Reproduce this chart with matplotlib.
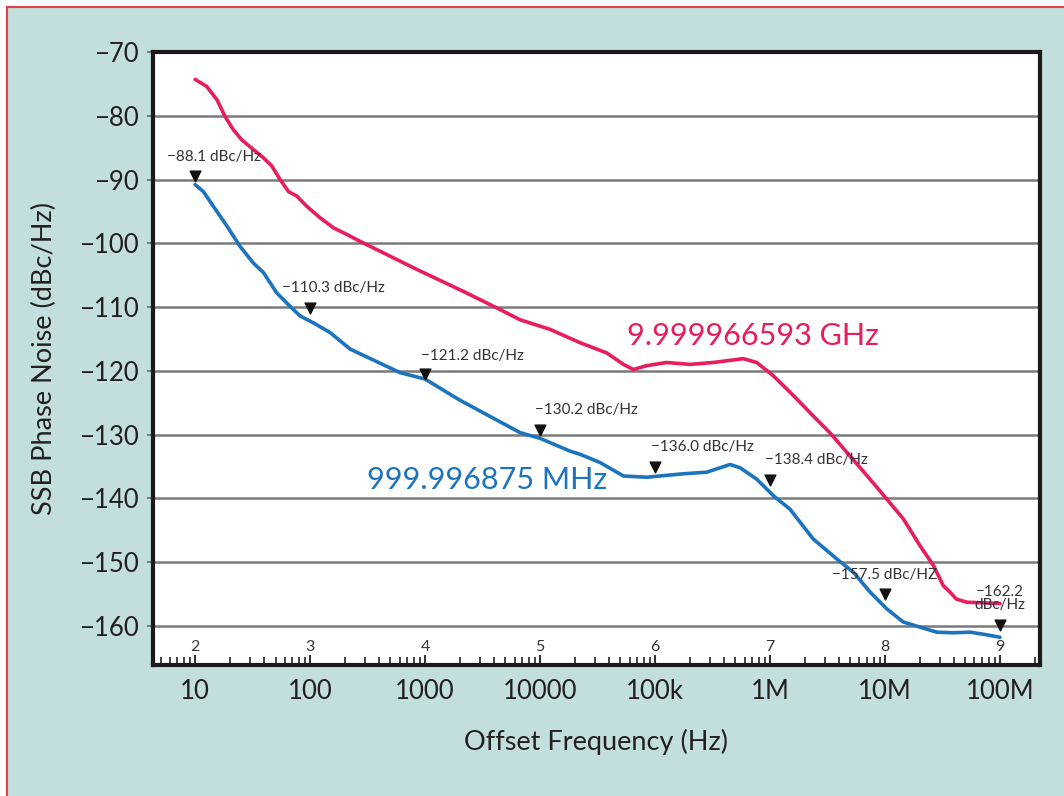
import matplotlib
matplotlib.use("Agg")
import matplotlib.pyplot as plt
from matplotlib.patches import Rectangle
from matplotlib.ticker import FixedLocator, NullFormatter, LogLocator
import numpy as np

plt.rcParams['font.family'] = ['Lato', 'DejaVu Sans']

# ---- data ----
red_f = [10, 12.6, 15.5, 18.2, 21.5, 25.5, 31.1, 39.3, 46.5, 54.8, 64.9, 76.6, 93.5,
         122, 160, 208, 272, 847, 2300, 4490, 6700, 12200, 22300, 38000, 53100,
         64700, 84700, 126000, 201000, 321000, 586000, 766000, 1070000, 1600000,
         2380000, 3310000, 7410000, 14400000, 20100000, 26300000, 32100000,
         36700000, 41700000, 51300000, 100000000]
red_v = [-74.3, -75.4, -77.5, -80.1, -82.2, -83.8, -85.1, -86.6, -87.9, -90.0, -91.9, -92.6, -94.2,
         -96.0, -97.6, -98.6, -99.7, -104.1, -107.8, -110.4, -112.0, -113.5, -115.6, -117.2, -119.0,
         -119.8, -119.2, -118.7, -119.0, -118.7, -118.1, -118.7, -120.8, -123.9,
         -127.1, -129.7, -137.0, -143.2, -147.4, -150.5, -153.7,
         -154.7, -155.8, -156.3, -156.5]

blue_f = [10, 11.8, 14.4, 18.9, 24.6, 32.1, 39.3, 51.3, 67.0, 81.8, 107, 149, 223, 607,
          1000, 2000, 6700, 10000, 18200, 22300, 33300, 53100, 84700, 165000, 282000,
          449000, 548000, 766000, 1070000, 1490000, 2380000, 3800000, 5310000,
          7410000, 10300000, 14400000, 20100000, 28200000, 39300000, 55000000,
          75900000, 100000000]
blue_v = [-90.8, -91.9, -94.2, -97.3, -100.5, -103.1, -104.6, -107.8, -109.9, -111.4, -112.5, -114.0, -116.6, -120.3,
          -121.3, -124.6, -129.7, -130.6, -132.6, -133.1, -134.4, -136.5, -136.7, -136.2, -135.9,
          -134.7, -135.2, -137.0, -139.6, -141.7, -146.4, -149.5, -151.6,
          -154.7, -157.3, -159.4, -160.2, -161.0, -161.1, -161.0,
          -161.4, -161.8]

marker_f = [10, 100, 1000, 10000, 100000, 1000000, 10000000, 100000000]
marker_y = [-89.5, -110.2, -120.5, -129.3, -135.1, -137.2, -155.0, -159.8]
marker_labels = ["\u221288.1 dBc/Hz", "\u2212110.3 dBc/Hz", "\u2212121.2 dBc/Hz",
                 "\u2212130.2 dBc/Hz", "\u2212136.0 dBc/Hz", "\u2212138.4 dBc/Hz",
                 "\u2212157.5 dBc/HZ", "\u2212162.2\ndBc/Hz"]
label_dx = [19, 23, 47, 46, 47, 46, 0, 0]   # pixel offsets of label centres
label_dy = [8, 9, 7, 9, 9, 9, 8, 8]

xtick_vals = [10, 100, 1000, 10000, 100000, 1000000, 10000000, 100000000]
xtick_labels = ["10", "100", "1000", "10000", "100k", "1M", "10M", "100M"]
decade_marks = ["2", "3", "4", "5", "6", "7", "8", "9"]
ytick_vals = [-70, -80, -90, -100, -110, -120, -130, -140, -150, -160]

red_name = "9.999966593 GHz"
blue_name = "999.996875 MHz"

RED = "#e81d5c"
BLUE = "#1b74bd"
TEAL = "#c3dfdd"

W, H = 1064, 796
fig = plt.figure(figsize=(W / 100, H / 100), dpi=100)
fig.patch.set_facecolor("white")
fig.patches.append(Rectangle((7 / W, -0.05), 1.2, 1 - 7 / H + 0.05,
                             transform=fig.transFigure, facecolor=TEAL,
                             edgecolor="#e0404c", linewidth=1.5, zorder=-10))

L, R, T, B = 153, 1040, 52, 665
ax = fig.add_axes([L / W, 1 - B / H, (R - L) / W, (B - T) / H])
ax.set_facecolor("white")
ax.set_xscale("log")
ax.set_xlim(4.3, 2.23e8)
ax.set_ylim(-166.15, -70)

for s in ax.spines.values():
    s.set_linewidth(3)
    s.set_color("#1a1a1a")

ax.set_yticks(ytick_vals)
ax.set_yticklabels(["\u2212%d" % abs(v) for v in ytick_vals], fontsize=18.5, color="#231f20")
ax.yaxis.grid(True, color="#7a7a7a", linewidth=1.8)
ax.tick_params(axis="y", direction="out", length=4, width=1.5, color="#7a7a7a", pad=6)

ax.xaxis.set_major_locator(FixedLocator(xtick_vals))
ax.set_xticklabels(xtick_labels, fontsize=18.5, color="#231f20")
ax.xaxis.set_minor_locator(LogLocator(base=10, subs=np.arange(2, 10), numticks=20))
ax.xaxis.set_minor_formatter(NullFormatter())
ax.tick_params(axis="x", which="major", direction="in", length=7, width=1.5,
               color="#333333", pad=10)
ax.tick_params(axis="x", which="minor", direction="in", length=6, width=1.3,
               color="#333333")

ax.plot(red_f, red_v, color=RED, linewidth=2.6, solid_capstyle="round",
        solid_joinstyle="round", zorder=3)
ax.plot(blue_f, blue_v, color=BLUE, linewidth=2.6, solid_capstyle="round",
        solid_joinstyle="round", zorder=3)

ax.scatter(marker_f, marker_y, marker="v", s=60, color="#111111", zorder=4)
for f, y, lab, dx, dy in zip(marker_f, marker_y, marker_labels, label_dx, label_dy):
    ax.annotate(lab, (f, y), xytext=(dx * 0.72, dy * 0.72 + 3), textcoords="offset points",
                ha="center", va="bottom", fontsize=11, color="#333333",
                linespacing=0.95, zorder=5)

for f, m in zip(xtick_vals, decade_marks):
    ax.text(f, 0.03, m, transform=ax.get_xaxis_transform(), ha="center", va="center",
            fontsize=11.5, color="#333333")

ax.text(7.08e5, -115.9, red_name, color=RED, fontsize=22, ha="center", va="baseline")
ax.text(3470, -138.5, blue_name, color=BLUE, fontsize=22, ha="center", va="baseline")

ax.set_xlabel("Offset Frequency (Hz)", fontsize=19.5, color="#231f20", labelpad=18)
ax.set_ylabel("SSB Phase Noise (dBc/Hz)", fontsize=19.5, color="#231f20", labelpad=16)

fig.savefig("out.png", dpi=100, facecolor=fig.get_facecolor())
